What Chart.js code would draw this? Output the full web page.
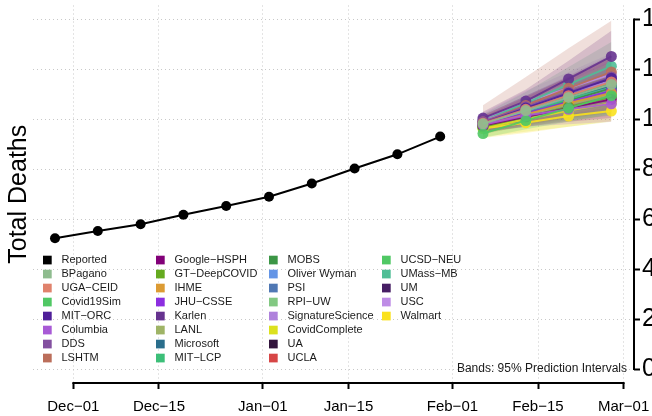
<!DOCTYPE html>
<html>
<head>
<meta charset="utf-8">
<script src="https://cdn.jsdelivr.net/npm/chart.js@4/dist/chart.umd.min.js"></script>
<style>
  html, body { margin: 0; padding: 0; background: #fff; }
</style>
</head>
<body>
<canvas id="deathsChart" width="652" height="416"></canvas>
<script>
// Reported weekly totals
const reportedDates = ['2020-11-28', '2020-12-05', '2020-12-12', '2020-12-19', '2020-12-26',
    '2021-01-02', '2021-01-09', '2021-01-16', '2021-01-23', '2021-01-30']
const reportedDeaths = [5240, 5530, 5800, 6180, 6530, 6900, 7430, 8030, 8600, 9310]

// Forecasts (1-4 weeks ahead)
const forecastDates = ['2021-02-06', '2021-02-13', '2021-02-20', '2021-02-27']
const models = ['BPagano', 'UGA−CEID', 'Covid19Sim', 'MIT−ORC', 'Columbia', 'DDS', 'LSHTM',
    'Google−HSPH', 'GT−DeepCOVID', 'IHME', 'JHU−CSSE', 'Karlen', 'LANL', 'Microsoft', 'MIT−LCP',
    'MOBS', 'Oliver Wyman', 'PSI', 'RPI−UW', 'SignatureScience', 'CovidComplete', 'UA', 'UCLA',
    'UCSD−NEU', 'UMass−MB', 'UM', 'USC', 'Walmart']
const modelColors = ['#8fbc8f', '#e0826c', '#50c864', '#4f1f99', '#a85ad6', '#8350a0', '#bb6e5a',
    '#820078', '#65aa1f', '#dc9b33', '#8c2ee0', '#66338f', '#9fb466', '#2a6e8c', '#3cbf78',
    '#3c9646', '#6495e6', '#5078b4', '#82c882', '#af82dc', '#dce11e', '#32143c', '#d74646',
    '#50c864', '#50be96', '#461e64', '#be8ce6', '#fae11e']
const medians = [
    [9820, 10350, 10880, 11400], [9850, 10400, 10950, 11500], [9430, 9950, 10450, 10950],
    [9850, 10450, 11050, 11650], [9780, 10150, 10400, 10620], [9900, 10500, 11100, 11700],
    [9900, 10550, 11250, 11900], [9750, 10100, 10450, 10800], [9700, 10100, 10500, 10900],
    [9750, 10200, 10650, 11050], [9800, 10250, 10700, 11150], [10050, 10730, 11620, 12520],
    [9720, 10150, 10600, 11000], [9780, 10440, 10900, 11350], [9700, 10250, 10800, 11350],
    [9750, 10250, 10750, 11250], [9800, 10300, 10800, 11300], [9750, 10300, 10850, 11400],
    [9700, 10200, 10700, 11200], [9950, 10500, 11050, 11550], [9650, 10000, 10350, 10650],
    [9820, 10330, 10800, 11170], [9750, 10250, 10750, 11250], [9650, 10250, 10850, 11490],
    [9950, 10650, 11400, 12130], [9900, 10500, 11050, 11600], [10000, 10700, 11250, 11800],
    [9630, 9860, 10130, 10330]
]
const lower95 = [
    [9600, 9950, 10250, 10500], [9550, 9900, 10200, 10450], [9250, 9600, 9900, 10200],
    [9600, 10000, 10400, 10750], [9500, 9700, 9800, 9900], [9650, 10050, 10450, 10800],
    [9400, 9750, 10050, 10300], [9500, 9700, 9900, 10050], [9450, 9700, 9950, 10150],
    [9500, 9800, 10050, 10300], [9550, 9850, 10150, 10400], [9800, 10250, 10900, 11500],
    [9450, 9750, 10000, 10250], [9600, 10000, 10300, 10500], [9500, 9900, 10250, 10600],
    [9550, 9950, 10300, 10650], [9600, 9950, 10300, 10650], [9500, 9900, 10300, 10650],
    [9450, 9800, 10150, 10450], [9700, 10100, 10450, 10750], [9300, 9500, 9700, 9900],
    [9600, 10000, 10300, 10500], [9550, 9950, 10300, 10650], [9450, 9850, 10250, 10600],
    [9700, 10200, 10700, 11150], [9650, 10050, 10450, 10800], [9750, 10250, 10650, 11000],
    [9250, 9450, 9700, 9930]
]
const upper95 = [
    [10050, 10750, 11500, 12300], [10150, 10900, 11700, 12550], [9650, 10300, 11000, 11700],
    [10100, 10900, 11700, 12550], [10050, 10600, 11000, 11400], [10150, 10950, 11750, 12600],
    [10560, 11700, 12850, 13950], [10000, 10500, 11000, 11550], [9950, 10500, 11050, 11650],
    [10000, 10600, 11250, 11800], [10050, 10650, 11250, 11900], [10300, 11200, 12350, 13550],
    [10000, 10550, 11200, 11800], [10000, 10650, 11300, 11850], [9900, 10600, 11350, 12100],
    [9950, 10550, 11200, 11850], [10000, 10650, 11300, 11950], [10000, 10700, 11400, 12150],
    [9950, 10600, 11250, 11950], [10200, 10900, 11650, 12350], [10000, 10500, 11000, 11450],
    [10000, 10650, 11300, 11850], [9950, 10600, 11200, 11850], [9850, 10650, 11450, 12350],
    [10200, 11100, 12100, 13100], [10150, 10950, 11700, 12450], [10250, 11150, 11900, 12650],
    [10000, 10300, 10600, 10800]
]

// Axis ticks
const xTickDates = ['2020-12-01', '2020-12-15', '2021-01-01', '2021-01-15', '2021-02-01', '2021-02-15', '2021-03-01']
const xTickLabels = ['Dec−01', 'Dec−15', 'Jan−01', 'Jan−15', 'Feb−01', 'Feb−15', 'Mar−01']
const yTicks = [0, 2000, 4000, 6000, 8000, 10000, 12000, 14000]

const FONT = "'Liberation Sans', Arial, sans-serif"
const dayZero = Date.parse('2020-12-01')
function dayNum(s) {
    return (Date.parse(s) - dayZero) / 86400000
}
function withAlpha(hex, a) {
    let r = parseInt(hex.slice(1, 3), 16), g = parseInt(hex.slice(3, 5), 16), b = parseInt(hex.slice(5, 7), 16)
    return 'rgba(' + r + ',' + g + ',' + b + ',' + a + ')'
}
function toPoints(dates, values) {
    return dates.map((d, i) => ({ x: dayNum(d), y: values[i] }))
}

// Datasets
let datasets = []
models.forEach((name, i) => {
    datasets.push({
        label: name + ' lower',
        data: toPoints(forecastDates, lower95[i]),
        borderWidth: 0, pointRadius: 0, fill: false, order: 3
    })
    datasets.push({
        label: name + ' upper',
        data: toPoints(forecastDates, upper95[i]),
        borderWidth: 0, pointRadius: 0, fill: '-1',
        backgroundColor: withAlpha(modelColors[i], 0.22), order: 3
    })
})
models.forEach((name, i) => {
    datasets.push({
        label: name,
        data: toPoints(forecastDates, medians[i]),
        borderColor: withAlpha(modelColors[i], 0.9),
        backgroundColor: withAlpha(modelColors[i], 0.9),
        borderWidth: 2, pointRadius: 5.5, pointBorderWidth: 0, fill: false, order: 2
    })
})
datasets.push({
    label: 'Reported',
    data: toPoints(reportedDates, reportedDeaths),
    borderColor: '#000', backgroundColor: '#000',
    borderWidth: 2, pointRadius: 5, pointBorderWidth: 0, fill: false, order: 1
})

// Axis lines only between first and last ticks, plus legend and note
const decorations = {
    id: 'decorations',
    afterDraw(chart) {
        const ctx = chart.ctx
        const xs = chart.scales.x, ys = chart.scales.y, area = chart.chartArea
        ctx.save()
        ctx.strokeStyle = '#000'
        ctx.lineWidth = 2
        ctx.beginPath()
        ctx.moveTo(xs.getPixelForValue(dayNum(xTickDates[0])) - 1, area.bottom)
        ctx.lineTo(xs.getPixelForValue(dayNum(xTickDates[xTickDates.length - 1])) + 1, area.bottom)
        ctx.moveTo(area.right, ys.getPixelForValue(yTicks[0]) + 1)
        ctx.lineTo(area.right, ys.getPixelForValue(yTicks[yTicks.length - 1]) - 1)
        ctx.stroke()

        // legend, column-major, 8 rows
        const names = ['Reported'].concat(models)
        const cols = ['#000000'].concat(modelColors)
        ctx.font = '11px ' + FONT
        ctx.textBaseline = 'middle'
        ctx.textAlign = 'left'
        names.forEach((n, i) => {
            let x0 = 43 + Math.floor(i / 8) * 113
            let y0 = 260 + (i % 8) * 14
            ctx.fillStyle = cols[i]
            ctx.fillRect(x0, y0 - 4.3, 8.7, 8.7)
            ctx.fillStyle = '#1a1a1a'
            ctx.fillText(n, x0 + 18.5, y0)
        })

        ctx.font = '12px ' + FONT
        ctx.textAlign = 'right'
        ctx.fillText('Bands: 95% Prediction Intervals', 627, 369)
        ctx.restore()
    }
}

function noPad(scale) {
    scale.paddingTop = 0
    scale.paddingBottom = 0
    scale.paddingLeft = 0
    scale.paddingRight = 0
}

const chartConfig = {
    type: 'line',
    data: { datasets: datasets },
    options: {
        responsive: false,
        devicePixelRatio: 1,
        animation: false,
        layout: { padding: { top: 4, left: 0, right: 0, bottom: 0 } },
        plugins: {
            legend: { display: false },
            tooltip: { enabled: false }
        },
        elements: { line: { tension: 0 } },
        scales: {
            x: {
                type: 'linear',
                min: -6.6,
                max: 91.7,
                afterBuildTicks: scale => { scale.ticks = xTickDates.map(d => ({ value: dayNum(d) })) },
                afterFit: scale => { noPad(scale); scale.height = 33 },
                grid: {
                    color: '#c8c8c8', lineWidth: 1,
                    tickLength: 6, tickColor: '#000', tickWidth: 2, tickBorderDash: []
                },
                border: { display: false, dash: [1, 3] },
                ticks: {
                    autoSkip: false, maxRotation: 0, padding: 9,
                    color: '#000', font: { size: 15, family: FONT },
                    callback: (value, index) => xTickLabels[index]
                }
            },
            y: {
                type: 'linear',
                position: 'right',
                min: -560,
                max: 14560,
                afterBuildTicks: scale => { scale.ticks = yTicks.map(v => ({ value: v })) },
                afterFit: scale => { noPad(scale); scale.width = 18 },
                grid: {
                    color: '#c8c8c8', lineWidth: 1,
                    tickLength: 6, tickColor: '#000', tickWidth: 2, tickBorderDash: []
                },
                border: { display: false, dash: [1, 3] },
                ticks: {
                    padding: 2, color: '#000', font: { size: 25, family: FONT },
                    callback: value => String(value)
                }
            },
            yLeft: {
                type: 'linear',
                position: 'left',
                afterFit: scale => { noPad(scale); scale.width = 33 },
                grid: { display: false },
                border: { display: false },
                ticks: { display: false },
                title: {
                    display: true, text: 'Total Deaths', color: '#000',
                    font: { size: 25, family: FONT }
                }
            }
        }
    },
    plugins: [decorations]
}

var ctx = document.getElementById('deathsChart').getContext('2d')
var deathsChart = new Chart(ctx, chartConfig)
</script>
</body>
</html>
